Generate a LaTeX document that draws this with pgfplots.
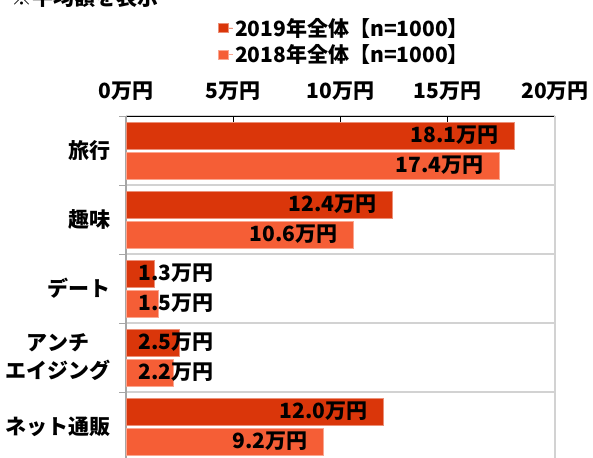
\documentclass[border=0pt]{standalone}
\usepackage{fontspec}
\setmainfont{Noto Sans CJK JP}
\usepackage{pgfplots}
\pgfplotsset{compat=1.18}
\definecolor{cA}{RGB}{218,54,10}
\definecolor{cB}{RGB}{245,94,54}
\definecolor{gridg}{RGB}{210,210,210}
\definecolor{axg}{RGB}{166,166,166}
\newcommand\F{\fontsize{21pt}{28pt}\selectfont\bfseries}
\begin{document}
\begin{tikzpicture}
\useasboundingbox (0,0) rectangle (593pt,-457pt);
\clip (0,0) rectangle (593pt,-457pt);
\node[anchor=base west,inner sep=0pt,font=\F] at (11pt,-5.5pt) {※平均額を表示};
\begin{axis}[
  at={(126pt,-116pt)}, anchor=north west,
  scale only axis, width=429pt, height=345pt,
  xbar,
  xmin=0, xmax=20, ymin=-0.5, ymax=4.5, y dir=reverse,
  axis x line*=top, axis y line*=left,
  x axis line style={black, line width=0.8pt},
  y axis line style={axg, line width=1.2pt},
  tick align=inside,
  xtick={0,5,10,15,20},
  xticklabels={0万円,5万円,10万円,15万円,20万円},
  major x tick style={black, line width=0.8pt},
  major tick length=7pt,
  ytick={0,1,2,3,4},
  yticklabels={旅行,趣味,デート,{アンチ\\エイジング},ネット通販},
  major y tick style={draw=none},
  minor ytick={-0.5,0.5,1.5,2.5,3.5,4.5},
  minor tick length=7pt,
  minor y tick style={axg, line width=1pt, xshift=-7pt},
  yminorgrids=true,
  minor y grid style={gridg, line width=1.2pt},
  extra x ticks={20},
  extra x tick labels={},
  extra x tick style={grid=major, major grid style={gridg, line width=1.5pt}, major tick length=0pt},
  ticklabel style={font=\F},
  yticklabel style={align=center, xshift=-12pt},
  xticklabel style={yshift=12pt},
  point meta=x,
  nodes near coords={\pgfmathprintnumber[fixed,fixed zerofill,precision=1,assume math mode=true]{\pgfplotspointmeta}万円},
  visualization depends on={rawx \as \rawx},
  every node near coord/.append style={font=\F, anchor=east, inner sep=0pt, xshift={21.45*(max(\rawx-0.72,4.1)-\rawx)}},
  legend style={at={(0.215,1.29)}, anchor=north west, draw=none, fill=none, font=\F, row sep=3pt, inner sep=0pt},
  legend cell align=left,
  legend image code/.code={\path (0pt,0pt) -- (14pt,0pt); \fill[#1] (0pt,-4.5pt) rectangle (10pt,4.5pt);},
]
\addplot[fill=cA, draw=cA!55!white, line width=0.6pt, bar width=27pt, bar shift=15pt]
  coordinates {(18.1,0) (12.4,1) (1.3,2) (2.5,3) (12.0,4)};
\addlegendentry{2019年全体【n=1000】}
\addplot[fill=cB, draw=cB!55!white, line width=0.6pt, bar width=27pt, bar shift=-15pt]
  coordinates {(17.4,0) (10.6,1) (1.5,2) (2.2,3) (9.2,4)};
\addlegendentry{2018年全体【n=1000】}
\end{axis}
\end{tikzpicture}
\end{document}
